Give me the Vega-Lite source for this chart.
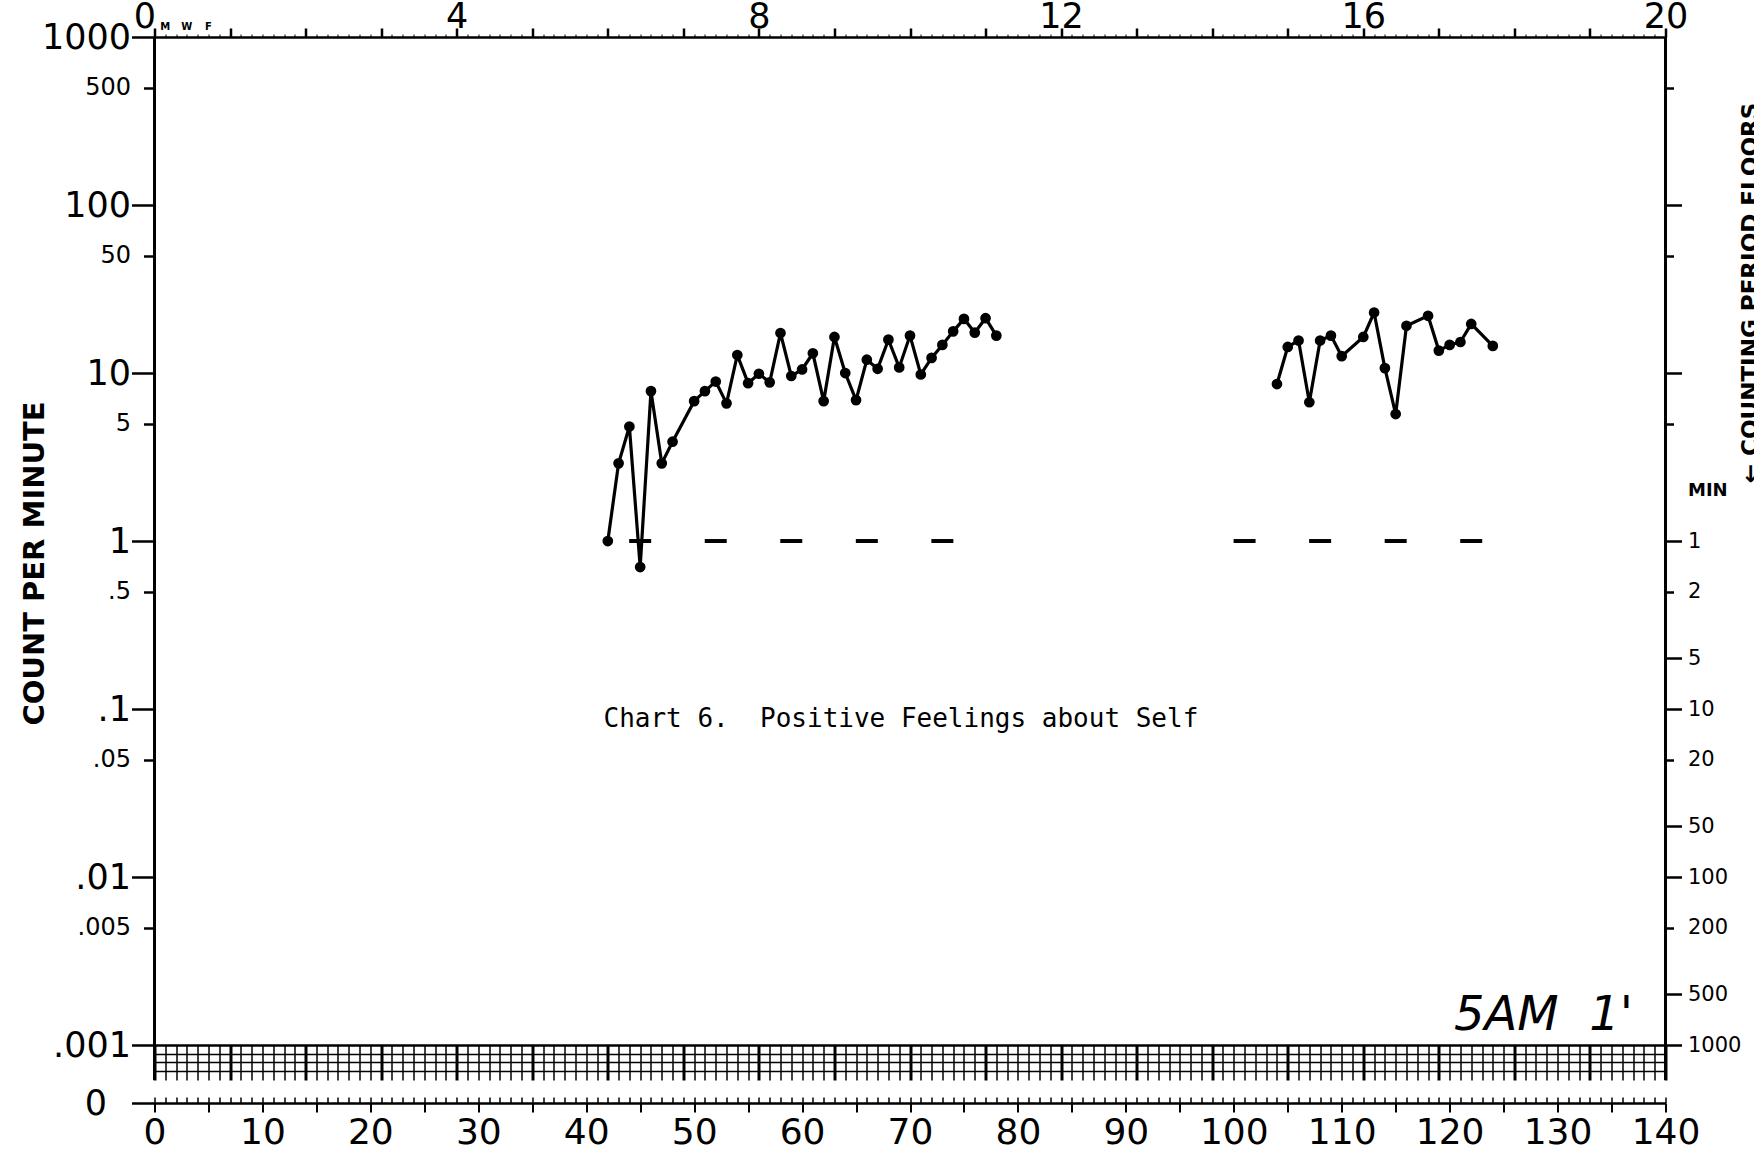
{
  "$schema": "https://vega.github.io/schema/vega-lite/v6.json",
  "width": 1511,
  "height": 1066,
  "autosize": {"type": "none"},
  "padding": {"left": 154.5, "top": 37, "right": 88.5, "bottom": 53},
  "background": "white",
  "config": {
    "view": {"stroke": null},
    "axis": {"labelOverlap": false, "labelFlush": false, "domainColor": "black", "tickColor": "black", "labelColor": "black", "titleColor": "black", "labelFont": "DejaVu Sans", "titleFont": "DejaVu Sans", "grid": false}
  },
  "datasets": {
    "rates": [
      {"day": 42, "rate": 1.0, "phase": "A"}, {"day": 43, "rate": 2.9, "phase": "A"}, {"day": 44, "rate": 4.8, "phase": "A"},
      {"day": 45, "rate": 0.7, "phase": "A"}, {"day": 46, "rate": 7.8, "phase": "A"}, {"day": 47, "rate": 2.9, "phase": "A"},
      {"day": 48, "rate": 3.9, "phase": "A"}, {"day": 50, "rate": 6.8, "phase": "A"}, {"day": 51, "rate": 7.8, "phase": "A"},
      {"day": 52, "rate": 8.9, "phase": "A"}, {"day": 53, "rate": 6.6, "phase": "A"}, {"day": 54, "rate": 12.8, "phase": "A"},
      {"day": 55, "rate": 8.7, "phase": "A"}, {"day": 56, "rate": 9.9, "phase": "A"}, {"day": 57, "rate": 8.8, "phase": "A"},
      {"day": 58, "rate": 17.3, "phase": "A"}, {"day": 59, "rate": 9.6, "phase": "A"}, {"day": 60, "rate": 10.5, "phase": "A"},
      {"day": 61, "rate": 13.1, "phase": "A"}, {"day": 62, "rate": 6.8, "phase": "A"}, {"day": 63, "rate": 16.4, "phase": "A"},
      {"day": 64, "rate": 10.0, "phase": "A"}, {"day": 65, "rate": 6.9, "phase": "A"}, {"day": 66, "rate": 12.0, "phase": "A"},
      {"day": 67, "rate": 10.6, "phase": "A"}, {"day": 68, "rate": 15.8, "phase": "A"}, {"day": 69, "rate": 10.8, "phase": "A"},
      {"day": 70, "rate": 16.7, "phase": "A"}, {"day": 71, "rate": 9.8, "phase": "A"}, {"day": 72, "rate": 12.3, "phase": "A"},
      {"day": 73, "rate": 14.7, "phase": "A"}, {"day": 74, "rate": 17.7, "phase": "A"}, {"day": 75, "rate": 21.0, "phase": "A"},
      {"day": 76, "rate": 17.4, "phase": "A"}, {"day": 77, "rate": 21.2, "phase": "A"}, {"day": 78, "rate": 16.7, "phase": "A"},
      {"day": 104, "rate": 8.6, "phase": "B"}, {"day": 105, "rate": 14.3, "phase": "B"}, {"day": 106, "rate": 15.6, "phase": "B"},
      {"day": 107, "rate": 6.7, "phase": "B"}, {"day": 108, "rate": 15.6, "phase": "B"}, {"day": 109, "rate": 16.7, "phase": "B"},
      {"day": 110, "rate": 12.6, "phase": "B"}, {"day": 112, "rate": 16.4, "phase": "B"}, {"day": 113, "rate": 22.9, "phase": "B"},
      {"day": 114, "rate": 10.7, "phase": "B"}, {"day": 115, "rate": 5.7, "phase": "B"}, {"day": 116, "rate": 19.1, "phase": "B"},
      {"day": 118, "rate": 21.9, "phase": "B"}, {"day": 119, "rate": 13.6, "phase": "B"}, {"day": 120, "rate": 14.7, "phase": "B"},
      {"day": 121, "rate": 15.3, "phase": "B"}, {"day": 122, "rate": 19.6, "phase": "B"}, {"day": 124, "rate": 14.5, "phase": "B"}
    ],
    "floors": [
      {"day": 45, "floor": 1}, {"day": 52, "floor": 1}, {"day": 59, "floor": 1}, {"day": 66, "floor": 1}, {"day": 73, "floor": 1},
      {"day": 101, "floor": 1}, {"day": 108, "floor": 1}, {"day": 115, "floor": 1}, {"day": 122, "floor": 1}
    ],
    "weekdays": [
      {"day": 1, "d": "M"}, {"day": 3, "d": "W"}, {"day": 5, "d": "F"}
    ]
  },
  "resolve": {"axis": {"x": "independent", "y": "independent"}},
  "layer": [
    {
      "data": {"name": "floors"},
      "mark": {"type": "point", "opacity": 0},
      "encoding": {
        "x": {"field": "day", "type": "quantitative", "scale": {"domain": [0, 140], "nice": false, "zero": false},
          "axis": {"orient": "bottom", "offset": -58, "tickCount": 140, "tickSize": 35,
            "tickWidth": {"condition": {"test": "datum.value % 7 == 0", "value": 3}, "value": 1.5},
            "labels": false, "domain": true, "domainWidth": 2.5, "title": null}},
        "y": {"field": "floor", "type": "quantitative", "scale": {"type": "log", "domain": [0.000452, 1000], "nice": false},
          "axis": {"orient": "left", "values": [0.00089, 0.000792, 0.0007], "grid": true, "gridColor": "black", "gridWidth": 1.5, "gridOpacity": 1,
            "ticks": false, "labels": false, "domain": false, "title": null}}
      }
    },
    {
      "data": {"name": "floors"},
      "mark": {"type": "point", "opacity": 0},
      "encoding": {
        "x": {"field": "day", "type": "quantitative", "scale": {"domain": [0, 140], "nice": false, "zero": false},
          "axis": {"orient": "top", "tickCount": 140, "tickSize": 3, "tickWidth": 1, "labels": false, "domain": false, "title": null}},
        "y": {"field": "floor", "type": "quantitative", "scale": {"type": "log", "domain": [0.000452, 1000], "nice": false}, "axis": null}
      }
    },
    {
      "data": {"name": "floors"},
      "mark": {"type": "point", "opacity": 0},
      "encoding": {
        "x": {"field": "day", "type": "quantitative", "scale": {"domain": [0, 140], "nice": false, "zero": false},
          "axis": {"orient": "top", "values": [0, 7, 14, 21, 28, 35, 42, 49, 56, 63, 70, 77, 84, 91, 98, 105, 112, 119, 126, 133, 140],
            "tickSize": 9, "tickWidth": 2.5, "domain": true, "domainWidth": 2.5,
            "labelExpr": "datum.value % 28 == 0 ? format(datum.value / 7, 'd') : ''",
            "labelOffset": {"condition": {"test": "datum.value == 0", "value": -10}, "value": 0},
            "labelFontSize": 35, "labelBaseline": "alphabetic", "labelPadding": 1, "title": null}},
        "y": {"field": "floor", "type": "quantitative", "scale": {"type": "log", "domain": [0.000452, 1000], "nice": false},
          "axis": {"orient": "left", "values": [1000, 500, 100, 50, 10, 5, 1, 0.5, 0.1, 0.05, 0.01, 0.005, 0.001, 0.000452],
            "tickSize": {"condition": {"test": "abs(log(datum.value)/LN10 - round(log(datum.value)/LN10) + 0.30103) < 0.01", "value": 11}, "value": 23},
            "tickWidth": 2.5, "labels": false, "domain": false, "title": null}}
      }
    },
    {
      "data": {"name": "floors"},
      "mark": {"type": "point", "opacity": 0},
      "encoding": {
        "x": {"field": "day", "type": "quantitative", "scale": {"domain": [0, 140], "nice": false, "zero": false}, "axis": null},
        "y": {"field": "floor", "type": "quantitative", "scale": {"type": "log", "domain": [0.000452, 1000], "nice": false},
          "axis": {"orient": "right", "values": [500, 100, 50, 10, 5, 1, 0.5, 0.2, 0.1, 0.05, 0.02, 0.01, 0.005, 0.002, 0.001],
            "tickSize": {"condition": {"test": "abs(log(datum.value)/LN10 - round(log(datum.value)/LN10) + 0.30103) < 0.01", "value": 8}, "value": 16},
            "tickWidth": 2.5, "labels": false, "domain": false,
            "title": "← COUNTING PERIOD FLOORS", "titleAngle": 270, "titleX": 92, "titleY": 255.5, "titleAlign": "center",
            "titleBaseline": "alphabetic", "titleFontSize": 23, "titleFontWeight": "bold"}}
      }
    },
    {
      "data": {"values": [{}]},
      "mark": {"type": "rule", "color": "black", "strokeWidth": 3},
      "encoding": {
        "x": {"datum": 0, "type": "quantitative", "scale": {"domain": [0, 140], "nice": false, "zero": false}, "axis": null},
        "y": {"datum": 0.000619, "type": "quantitative", "scale": {"type": "log", "domain": [0.000452, 1000], "nice": false}, "axis": null},
        "y2": {"datum": 1000}
      }
    },
    {
      "data": {"values": [{}]},
      "mark": {"type": "rule", "color": "black", "strokeWidth": 3},
      "encoding": {
        "x": {"datum": 140, "type": "quantitative", "scale": {"domain": [0, 140], "nice": false, "zero": false}, "axis": null},
        "y": {"datum": 0.000619, "type": "quantitative", "scale": {"type": "log", "domain": [0.000452, 1000], "nice": false}, "axis": null},
        "y2": {"datum": 1000}
      }
    },
    {
      "data": {"name": "floors"},
      "mark": {"type": "tick", "orient": "horizontal", "size": 22, "thickness": 4, "color": "black", "opacity": 1},
      "encoding": {
        "x": {"field": "day", "type": "quantitative", "scale": {"domain": [0, 140], "nice": false, "zero": false},
          "axis": {"orient": "bottom", "tickCount": 140, "tickSize": -6, "tickWidth": 1.5, "labels": false, "domain": false, "title": null}},
        "y": {"field": "floor", "type": "quantitative", "scale": {"type": "log", "domain": [0.000452, 1000], "nice": false},
          "axis": {"orient": "right", "values": [1, 0.5, 0.2, 0.1, 0.05, 0.02, 0.01, 0.005, 0.002, 0.001, 2.01],
            "ticks": false, "domain": false, "labelPadding": 22, "labelAlign": "left",
            "labelExpr": "datum.value > 1.5 ? 'MIN' : format(1 / datum.value, '.0f')",
            "labelFontSize": {"condition": {"test": "datum.value > 1.5", "value": 18}, "value": 21},
            "labelFontWeight": {"condition": {"test": "datum.value > 1.5", "value": "bold"}, "value": "normal"},
            "title": null}}
      }
    },
    {
      "data": {"name": "rates"},
      "mark": {"type": "line", "color": "black", "strokeWidth": 3.2},
      "encoding": {
        "x": {"field": "day", "type": "quantitative", "scale": {"domain": [0, 140], "nice": false, "zero": false},
          "axis": {"orient": "bottom", "values": [0, 5, 10, 15, 20, 25, 30, 35, 40, 45, 50, 55, 60, 65, 70, 75, 80, 85, 90, 95, 100, 105, 110, 115, 120, 125, 130, 135, 140],
            "tickSize": 9, "tickWidth": 2, "domain": true, "domainWidth": 2.5,
            "labelExpr": "datum.value % 10 == 0 ? datum.label : ''", "labelFontSize": 36, "labelPadding": 3, "title": null}},
        "y": {"field": "rate", "type": "quantitative", "scale": {"type": "log", "domain": [0.000452, 1000], "nice": false},
          "axis": {"orient": "left", "values": [1000, 500, 100, 50, 10, 5, 1, 0.5, 0.1, 0.05, 0.01, 0.005, 0.001, 0.000452],
            "ticks": false, "domain": false,
            "labelPadding": {"condition": {"test": "datum.value < 0.0006", "value": 48}, "value": 24},
            "labelExpr": "datum.value < 0.0006 ? '0' : datum.value >= 1 ? format(datum.value, 'd') : replace(format(datum.value, '~g'), '0.', '.')",
            "labelFontSize": {"condition": {"test": "abs(log(datum.value)/LN10 - round(log(datum.value)/LN10) + 0.30103) < 0.01", "value": 24}, "value": 35},
            "title": "COUNT PER MINUTE", "titleAngle": 270, "titleX": -111.5, "titleY": 526, "titleAlign": "center",
            "titleBaseline": "alphabetic", "titleFontSize": 29, "titleFontWeight": "bold"}},
        "detail": {"field": "phase"}
      }
    },
    {
      "data": {"name": "rates"},
      "mark": {"type": "point", "filled": true, "size": 115, "color": "black", "opacity": 1},
      "encoding": {
        "x": {"field": "day", "type": "quantitative", "scale": {"domain": [0, 140], "nice": false, "zero": false}, "axis": null},
        "y": {"field": "rate", "type": "quantitative", "scale": {"type": "log", "domain": [0.000452, 1000], "nice": false}, "axis": null}
      }
    },
    {
      "data": {"values": [{}]},
      "mark": {"type": "text", "text": "Chart 6.\u00a0 Positive Feelings about Self", "font": "DejaVu Sans Mono", "fontSize": 26, "align": "left", "baseline": "middle", "color": "black"},
      "encoding": {
        "x": {"datum": 41.6, "type": "quantitative", "scale": {"domain": [0, 140], "nice": false, "zero": false}, "axis": null},
        "y": {"datum": 0.0871, "type": "quantitative", "scale": {"type": "log", "domain": [0.000452, 1000], "nice": false}, "axis": null}
      }
    },
    {
      "data": {"values": [{}]},
      "mark": {"type": "text", "text": "5AM\u00a0 1'", "font": "DejaVu Sans", "fontStyle": "italic", "fontSize": 48, "align": "left", "baseline": "middle", "color": "black"},
      "encoding": {
        "x": {"datum": 120.4, "type": "quantitative", "scale": {"domain": [0, 140], "nice": false, "zero": false}, "axis": null},
        "y": {"datum": 0.00148, "type": "quantitative", "scale": {"type": "log", "domain": [0.000452, 1000], "nice": false}, "axis": null}
      }
    },
    {
      "data": {"name": "weekdays"},
      "mark": {"type": "text", "font": "DejaVu Sans", "fontWeight": "bold", "fontSize": 10, "align": "center", "baseline": "middle", "color": "black"},
      "encoding": {
        "x": {"field": "day", "type": "quantitative", "scale": {"domain": [0, 140], "nice": false, "zero": false}, "axis": null},
        "y": {"datum": 1150, "type": "quantitative", "scale": {"type": "log", "domain": [0.000452, 1000], "nice": false}, "axis": null},
        "text": {"field": "d"}
      }
    }
  ]
}
